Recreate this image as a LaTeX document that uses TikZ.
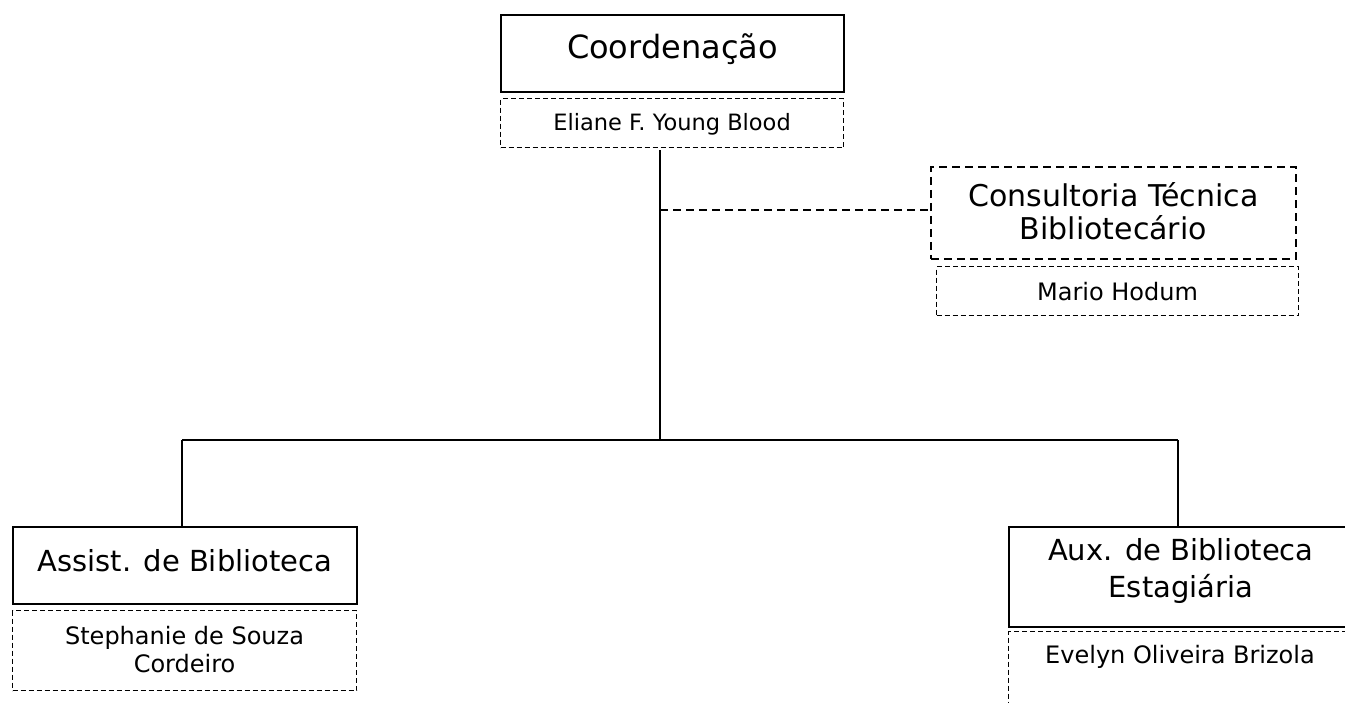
\documentclass[tikz,border=0pt]{standalone}
\usepackage{fontspec}
\setmainfont{DejaVu Sans}
\begin{document}
\begin{tikzpicture}[x=1pt,y=-1pt,
  big/.style={font=\fontsize{29}{36}\selectfont, align=center, inner sep=0pt},
  small/.style={font=\fontsize{24}{28}\selectfont, align=center, inner sep=0pt},
  solidbox/.style={draw, line width=1.8pt, inner sep=0pt, anchor=north west},
  namebox/.style={draw, line width=1.1pt, dash pattern=on 5pt off 3pt, inner sep=0pt, anchor=north west},
  consbox/.style={draw, line width=1.8pt, dash pattern=on 8pt off 5pt, inner sep=0pt, anchor=north west},
  conn/.style={line width=1.4pt},
  dconn/.style={line width=1.6pt, dash pattern=on 8pt off 5pt}]
\useasboundingbox (0,0) rectangle (1345,702);

\node[solidbox, minimum width=343pt, minimum height=77pt] (coord) at (500,14) {};
\node[big, font=\fontsize{32}{38}\selectfont] (coordT) at ([yshift=4pt]coord.center) {Coordenação};
\node[namebox, minimum width=343pt, minimum height=49pt] (eliane) at (500,98) {};
\node[small, font=\fontsize{22.5}{28}\selectfont] (elianeT) at ([yshift=-1pt]eliane.center) {Eliane F. Young Blood};

\node[consbox, minimum width=365pt, minimum height=92pt] (cons) at (930,166) {};
\node[big, font=\fontsize{30}{33}\selectfont] (consT) at ([yshift=2pt]cons.center) {Consultoria Técnica\\Bibliotecário};
\node[namebox, minimum width=362pt, minimum height=49pt] (mario) at (936,266) {};
\node[small] (marioT) at (mario.center) {Mario Hodum};

\node[solidbox, minimum width=344pt, minimum height=77pt] (assist) at (12,526) {};
\node[big] (assistT) at ([yshift=5pt]assist.center) {Assist. de Biblioteca};
\node[namebox, minimum width=344pt, minimum height=80pt] (steph) at (12,610) {};
\node[small] (stephT) at ([yshift=1pt]steph.center) {Stephanie de Souza\\Cordeiro};

\node[solidbox, minimum width=344pt, minimum height=100pt] (aux) at (1008,526) {};
\node[big, font=\fontsize{29}{37}\selectfont] (auxT) at ([yshift=6pt]aux.center) {Aux. de Biblioteca\\Estagiária};
\node[namebox, minimum width=344pt, minimum height=90pt] (evelyn) at (1008,631) {};
\node[small] (evelynT) at (1180,657) {Evelyn Oliveira Brizola};

\coordinate (top) at (660,150);
\coordinate (mid) at (660,210);
\coordinate (junc) at (660,440);
\coordinate (hl) at (182,440);
\coordinate (hr) at (1178,440);

\draw[conn] (top) -- (junc);
\draw[dconn] (mid) -- (mid -| cons.west);
\draw[conn] (hl) -- (hr);
\draw[conn] (hl) -- (hl |- assist.north);
\draw[conn] (hr) -- (hr |- aux.north);
\end{tikzpicture}
\end{document}
